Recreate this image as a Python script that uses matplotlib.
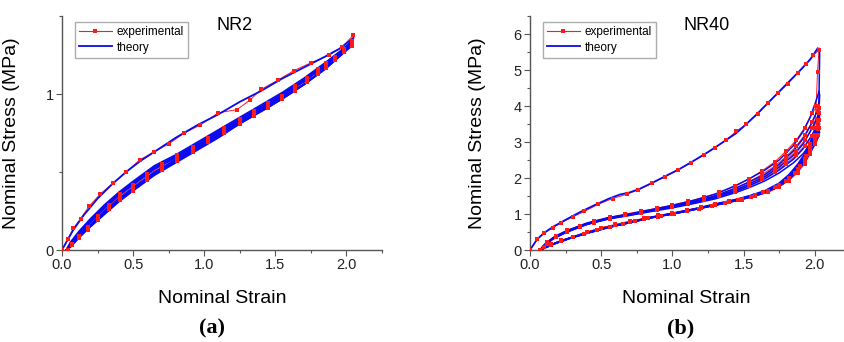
import matplotlib.pyplot as plt
from matplotlib.ticker import MultipleLocator, FixedLocator
from matplotlib.lines import Line2D

plt.rcParams["font.family"] = ["Liberation Sans", "DejaVu Sans"]

# ---------------- NR2 (panel a) ----------------
nr2_load_strain = [0, 0.03, 0.08, 0.15, 0.25, 0.35, 0.45, 0.55, 0.65, 0.8, 0.95, 1.1, 1.25, 1.4, 1.55, 1.7, 1.85, 1.95, 2.05]
nr2_load_stress = [0, 0.05, 0.13, 0.22, 0.33, 0.42, 0.5, 0.57, 0.63, 0.72, 0.8, 0.87, 0.95, 1.02, 1.1, 1.17, 1.24, 1.29, 1.36]

nr2_band_strain = [2.04, 1.95, 1.85, 1.7, 1.55, 1.4, 1.25, 1.1, 0.95, 0.8, 0.65, 0.5, 0.4, 0.3, 0.2, 0.12, 0.06, 0.03]
nr2_unload_stress = [
    [1.34, 1.25, 1.17, 1.06, 0.97, 0.89, 0.81, 0.72, 0.64, 0.56, 0.48, 0.38, 0.31, 0.23, 0.15, 0.08, 0.02, 0.0],
    [1.32, 1.24, 1.16, 1.06, 0.97, 0.89, 0.81, 0.73, 0.65, 0.57, 0.49, 0.39, 0.32, 0.24, 0.16, 0.09, 0.03, 0.0],
    [1.31, 1.24, 1.16, 1.06, 0.98, 0.9, 0.82, 0.74, 0.66, 0.58, 0.5, 0.4, 0.33, 0.25, 0.16, 0.09, 0.03, 0.0],
]
nr2_reload_stress = [
    [1.34, 1.27, 1.2, 1.1, 1.01, 0.93, 0.85, 0.77, 0.69, 0.61, 0.54, 0.44, 0.37, 0.29, 0.2, 0.12, 0.05, 0.0],
    [1.33, 1.26, 1.19, 1.09, 1.0, 0.92, 0.84, 0.76, 0.68, 0.6, 0.53, 0.43, 0.36, 0.28, 0.19, 0.11, 0.04, 0.0],
    [1.32, 1.25, 1.18, 1.08, 0.99, 0.91, 0.83, 0.75, 0.67, 0.59, 0.52, 0.42, 0.35, 0.27, 0.18, 0.1, 0.04, 0.0],
]

nr2_exp_load_strain = [0.0, 0.04, 0.08, 0.13, 0.19, 0.27, 0.36, 0.45, 0.55, 0.65, 0.75, 0.86, 0.97, 1.1, 1.23, 1.32, 1.4, 1.52, 1.63, 1.75, 1.88, 1.97, 2.05]
nr2_exp_load_stress = [0.0, 0.07, 0.14, 0.2, 0.28, 0.36, 0.43, 0.5, 0.58, 0.63, 0.68, 0.75, 0.8, 0.88, 0.9, 0.96, 1.03, 1.09, 1.15, 1.2, 1.25, 1.3, 1.38]

nr2_exp_band_strain = [2.04, 1.98, 1.92, 1.86, 1.8, 1.72, 1.64, 1.55, 1.45, 1.35, 1.25, 1.14, 1.03, 0.92, 0.81, 0.7, 0.6, 0.5, 0.41, 0.33, 0.25, 0.18, 0.12, 0.07, 0.04]
nr2_exp_unload_stress = [
    [1.32, 1.27, 1.22, 1.17, 1.13, 1.08, 1.02, 0.97, 0.91, 0.86, 0.81, 0.75, 0.69, 0.63, 0.57, 0.51, 0.45, 0.38, 0.32, 0.26, 0.19, 0.13, 0.08, 0.03, 0.0],
    [1.31, 1.27, 1.22, 1.18, 1.13, 1.08, 1.03, 0.98, 0.92, 0.87, 0.82, 0.76, 0.7, 0.64, 0.58, 0.52, 0.46, 0.39, 0.33, 0.27, 0.2, 0.14, 0.08, 0.03, 0.0],
]
nr2_exp_reload_stress = [
    [1.34, 1.29, 1.24, 1.2, 1.16, 1.1, 1.05, 0.99, 0.94, 0.89, 0.84, 0.78, 0.72, 0.66, 0.61, 0.55, 0.49, 0.42, 0.36, 0.29, 0.22, 0.15, 0.09, 0.04, 0.0],
    [1.33, 1.28, 1.23, 1.19, 1.15, 1.09, 1.04, 0.98, 0.93, 0.88, 0.83, 0.77, 0.71, 0.65, 0.6, 0.54, 0.48, 0.41, 0.35, 0.28, 0.21, 0.14, 0.09, 0.04, 0.0],
]

# ---------------- NR40 (panel b) ----------------
nr40_load_strain = [0, 0.02, 0.05, 0.1, 0.16, 0.25, 0.35, 0.45, 0.55, 0.63, 0.7, 0.77, 0.85, 0.95, 1.05, 1.15, 1.25, 1.35, 1.45, 1.52, 1.6, 1.7, 1.8, 1.9, 1.97, 2.02]
nr40_load_stress = [0, 0.12, 0.3, 0.48, 0.64, 0.84, 1.05, 1.24, 1.42, 1.54, 1.6, 1.7, 1.85, 2.05, 2.25, 2.48, 2.72, 2.98, 3.25, 3.5, 3.8, 4.2, 4.6, 5.0, 5.3, 5.6]

nr40_unload_strain = [2.03, 2.035, 2.03, 2.02, 2.0, 1.97, 1.93, 1.88, 1.82, 1.75, 1.65, 1.55, 1.45, 1.3, 1.15, 1.0, 0.85, 0.7, 0.55, 0.4, 0.28, 0.18, 0.12, 0.07]
nr40_unload_stress = [
    [5.6, 5.45, 4.2, 3.5, 3.2, 2.95, 2.6, 2.3, 2.02, 1.8, 1.6, 1.48, 1.38, 1.25, 1.12, 1.0, 0.9, 0.76, 0.63, 0.47, 0.33, 0.19, 0.09, 0.0],
    [4.4, 4.3, 3.9, 3.55, 3.3, 3.02, 2.68, 2.38, 2.1, 1.86, 1.65, 1.52, 1.41, 1.28, 1.14, 1.02, 0.91, 0.77, 0.64, 0.48, 0.33, 0.19, 0.09, 0.0],
    [4.0, 3.95, 3.7, 3.45, 3.22, 2.95, 2.62, 2.33, 2.06, 1.83, 1.63, 1.5, 1.4, 1.27, 1.13, 1.01, 0.9, 0.77, 0.63, 0.47, 0.33, 0.19, 0.09, 0.0],
    [3.8, 3.75, 3.55, 3.35, 3.15, 2.9, 2.58, 2.3, 2.04, 1.82, 1.62, 1.49, 1.39, 1.26, 1.13, 1.01, 0.9, 0.76, 0.63, 0.47, 0.33, 0.19, 0.09, 0.0],
    [3.55, 3.5, 3.4, 3.22, 3.05, 2.82, 2.52, 2.26, 2.01, 1.8, 1.61, 1.48, 1.38, 1.25, 1.12, 1.0, 0.9, 0.76, 0.63, 0.47, 0.33, 0.19, 0.09, 0.0],
    [3.3, 3.28, 3.2, 3.08, 2.92, 2.72, 2.45, 2.2, 1.97, 1.77, 1.59, 1.47, 1.37, 1.24, 1.12, 1.0, 0.89, 0.76, 0.62, 0.46, 0.32, 0.18, 0.08, 0.0],
]

nr40_reload_strain = [0.07, 0.1, 0.16, 0.25, 0.4, 0.55, 0.7, 0.85, 1.0, 1.15, 1.3, 1.45, 1.55, 1.65, 1.75, 1.85, 1.92, 1.97, 2.01, 2.03]
nr40_reload_stress = [
    [0, 0.15, 0.34, 0.52, 0.75, 0.9, 1.0, 1.12, 1.24, 1.38, 1.55, 1.8, 2.0, 2.22, 2.5, 2.9, 3.3, 3.7, 4.15, 4.4],
    [0, 0.14, 0.33, 0.51, 0.74, 0.89, 0.99, 1.1, 1.22, 1.35, 1.5, 1.73, 1.91, 2.1, 2.38, 2.75, 3.1, 3.45, 3.8, 4.0],
    [0, 0.13, 0.32, 0.5, 0.73, 0.88, 0.98, 1.09, 1.2, 1.33, 1.47, 1.68, 1.85, 2.04, 2.3, 2.63, 2.95, 3.3, 3.62, 3.8],
    [0, 0.12, 0.31, 0.49, 0.72, 0.87, 0.97, 1.08, 1.19, 1.31, 1.45, 1.64, 1.8, 1.98, 2.22, 2.52, 2.82, 3.12, 3.4, 3.55],
    [0, 0.12, 0.3, 0.48, 0.71, 0.86, 0.96, 1.07, 1.17, 1.29, 1.42, 1.6, 1.75, 1.92, 2.14, 2.42, 2.68, 2.95, 3.18, 3.3],
]

nr40_exp_load_strain = [0.0, 0.05, 0.1, 0.16, 0.22, 0.3, 0.38, 0.48, 0.58, 0.68, 0.76, 0.86, 0.95, 1.04, 1.13, 1.22, 1.3, 1.38, 1.45, 1.52, 1.6, 1.67, 1.74, 1.81, 1.88, 1.94, 1.99, 2.03]
nr40_exp_load_stress = [0.0, 0.3, 0.47, 0.62, 0.76, 0.92, 1.07, 1.27, 1.43, 1.55, 1.67, 1.86, 2.04, 2.22, 2.43, 2.64, 2.84, 3.07, 3.3, 3.5, 3.78, 4.08, 4.35, 4.62, 4.92, 5.18, 5.42, 5.55]

nr40_exp_drop_strain = [2.02, 2.01, 2.0, 1.97, 1.94, 1.9, 1.86, 1.8, 1.72, 1.64, 1.55, 1.46, 1.37, 1.28, 1.19, 1.1, 1.01, 0.92, 0.83, 0.74, 0.65, 0.56, 0.47, 0.38, 0.3, 0.22, 0.15, 0.1, 0.07]
nr40_exp_drop_stress = [4.95, 4.0, 3.4, 2.95, 2.62, 2.34, 2.15, 1.92, 1.74, 1.6, 1.48, 1.39, 1.3, 1.22, 1.15, 1.07, 1.0, 0.94, 0.88, 0.8, 0.72, 0.64, 0.55, 0.45, 0.36, 0.26, 0.15, 0.07, 0.0]

nr40_exp_reload_strain = [0.07, 0.12, 0.18, 0.26, 0.35, 0.45, 0.56, 0.67, 0.78, 0.89, 1.0, 1.11, 1.22, 1.33, 1.44, 1.54, 1.63, 1.72, 1.8, 1.87, 1.93, 1.98, 2.02]
nr40_exp_reload_stress = [
    [0.0, 0.22, 0.4, 0.55, 0.68, 0.8, 0.91, 1.0, 1.08, 1.16, 1.25, 1.35, 1.46, 1.6, 1.77, 1.98, 2.2, 2.45, 2.75, 3.05, 3.4, 3.8, 4.0],
    [0.0, 0.2, 0.38, 0.53, 0.66, 0.78, 0.89, 0.98, 1.06, 1.14, 1.23, 1.32, 1.42, 1.55, 1.7, 1.9, 2.1, 2.33, 2.6, 2.88, 3.2, 3.55, 3.85],
    [0.0, 0.19, 0.36, 0.52, 0.65, 0.77, 0.88, 0.97, 1.05, 1.13, 1.21, 1.3, 1.4, 1.52, 1.66, 1.84, 2.03, 2.25, 2.5, 2.76, 3.05, 3.38, 3.6],
    [0.0, 0.18, 0.35, 0.51, 0.64, 0.76, 0.87, 0.96, 1.04, 1.12, 1.2, 1.28, 1.38, 1.49, 1.62, 1.79, 1.97, 2.17, 2.4, 2.64, 2.9, 3.18, 3.4],
]
nr40_exp_unload_strain = [2.03, 2.02, 2.0, 1.97, 1.93, 1.88, 1.82, 1.75, 1.67, 1.58, 1.49, 1.4, 1.3, 1.2, 1.1, 1.0, 0.9, 0.8, 0.7, 0.6, 0.5, 0.4, 0.3, 0.22, 0.15, 0.1, 0.07]
nr40_exp_unload_stress = [
    [3.95, 3.55, 3.2, 2.85, 2.52, 2.25, 2.0, 1.8, 1.64, 1.52, 1.43, 1.35, 1.27, 1.19, 1.11, 1.03, 0.96, 0.88, 0.8, 0.71, 0.62, 0.5, 0.37, 0.27, 0.16, 0.07, 0.0],
    [3.8, 3.45, 3.12, 2.8, 2.48, 2.22, 1.98, 1.78, 1.62, 1.51, 1.42, 1.34, 1.26, 1.18, 1.1, 1.02, 0.95, 0.87, 0.79, 0.7, 0.61, 0.5, 0.37, 0.27, 0.16, 0.07, 0.0],
    [3.6, 3.35, 3.05, 2.75, 2.45, 2.18, 1.95, 1.76, 1.61, 1.5, 1.41, 1.33, 1.25, 1.17, 1.09, 1.01, 0.94, 0.86, 0.78, 0.7, 0.6, 0.49, 0.36, 0.26, 0.15, 0.07, 0.0],
    [3.4, 3.2, 2.95, 2.68, 2.4, 2.15, 1.93, 1.75, 1.6, 1.49, 1.4, 1.32, 1.24, 1.16, 1.08, 1.0, 0.93, 0.85, 0.77, 0.69, 0.6, 0.49, 0.36, 0.26, 0.15, 0.07, 0.0],
]

BLUE = "#0a0af0"
RED = "#ff1a1a"


def style_axes(ax, xmax, ymax, yticks, ylabel_x):
    ax.set_xlim(0, xmax)
    ax.set_ylim(0, ymax)
    for side in ("top", "right"):
        ax.spines[side].set_visible(False)
    for side in ("left", "bottom"):
        ax.spines[side].set_color("#555555")
        ax.spines[side].set_linewidth(1.0)
    ax.xaxis.set_major_locator(MultipleLocator(0.5))
    ax.xaxis.set_minor_locator(MultipleLocator(0.25))
    ax.yaxis.set_major_locator(FixedLocator(yticks))
    ax.yaxis.set_minor_locator(MultipleLocator(0.5))
    ax.xaxis.set_major_formatter(plt.FuncFormatter(lambda v, p: f"{v:.1f}"))
    ax.yaxis.set_major_formatter(plt.FuncFormatter(lambda v, p: f"{v:g}"))
    ax.tick_params(which="major", direction="out", length=4, width=0.8,
                   color="#555555", labelsize=10.5, labelcolor="#222222", pad=2)
    ax.tick_params(which="minor", direction="out", length=2.5, width=0.8, color="#555555")
    ax.set_xlabel("Nominal Strain", fontsize=14)
    ax.set_ylabel("Nominal Stress (MPa)", fontsize=14)
    ax.xaxis.set_label_coords(0.5, -0.17)
    ax.yaxis.set_label_coords(ylabel_x, 0.5)


def draw_exp(ax, xs, ys):
    # thin red line under the theory curves, square markers above them
    ax.plot(xs, ys, color=RED, lw=0.7, zorder=1)
    ax.plot(xs, ys, ls="none", marker="s", ms=2.4, mew=0, color=RED, zorder=3)


def add_legend(ax):
    exp_h = Line2D([], [], color=RED, lw=0.8, marker="s", ms=3, mew=0)
    th_h = Line2D([], [], color=BLUE, lw=1.3)
    ax.legend([exp_h, th_h], ["experimental", "theory"], loc="upper left",
              bbox_to_anchor=(0.04, 0.975), fontsize=8.5, frameon=True, fancybox=False,
              edgecolor="#999999", handlelength=2.8, handletextpad=0.4,
              borderpad=0.35, labelspacing=0.3, borderaxespad=0)


fig = plt.figure(figsize=(8.44, 3.42), dpi=100)
ax1 = fig.add_axes([0.0735, 0.269, 0.379, 0.684])
ax2 = fig.add_axes([0.628, 0.269, 0.371, 0.684])

# panel a
ax1.plot(nr2_load_strain, nr2_load_stress, color=BLUE, lw=1.3, zorder=2)
for u, r in zip(nr2_unload_stress, nr2_reload_stress):
    ax1.plot(nr2_band_strain, u, color=BLUE, lw=1.3, zorder=2)
    ax1.plot(nr2_band_strain, r, color=BLUE, lw=1.3, zorder=2)
ex_x = list(nr2_exp_load_strain)
ex_y = list(nr2_exp_load_stress)
for u, r in zip(nr2_exp_unload_stress, nr2_exp_reload_stress):
    ex_x += nr2_exp_band_strain + nr2_exp_band_strain[::-1]
    ex_y += u + r[::-1]
draw_exp(ax1, ex_x, ex_y)
style_axes(ax1, 2.25, 1.5, [0, 1], -0.13)
ax1.text(0.54, 0.96, "NR2", transform=ax1.transAxes, ha="center", va="center", fontsize=13)
add_legend(ax1)

# panel b
ax2.plot(nr40_load_strain, nr40_load_stress, color=BLUE, lw=1.3, zorder=2)
for u in nr40_unload_stress:
    ax2.plot(nr40_unload_strain, u, color=BLUE, lw=1.1, zorder=2)
for r in nr40_reload_stress:
    ax2.plot(nr40_reload_strain, r, color=BLUE, lw=1.1, zorder=2)
ex_x = nr40_exp_load_strain + nr40_exp_drop_strain
ex_y = nr40_exp_load_stress + nr40_exp_drop_stress
for r, u in zip(nr40_exp_reload_stress, nr40_exp_unload_stress):
    ex_x += nr40_exp_reload_strain + nr40_exp_unload_strain
    ex_y += r + u
draw_exp(ax2, ex_x, ex_y)
style_axes(ax2, 2.2, 6.5, [0, 1, 2, 3, 4, 5, 6], -0.14)
ax2.text(0.565, 0.96, "NR40", transform=ax2.transAxes, ha="center", va="center", fontsize=13)
add_legend(ax2)

fig.text(0.251, 0.04, "(a)", ha="center", va="center", fontsize=16,
         fontweight="bold", family=["Liberation Serif"])
fig.text(0.807, 0.04, "(b)", ha="center", va="center", fontsize=16,
         fontweight="bold", family=["Liberation Serif"])

fig.savefig("out.png", dpi=100)
